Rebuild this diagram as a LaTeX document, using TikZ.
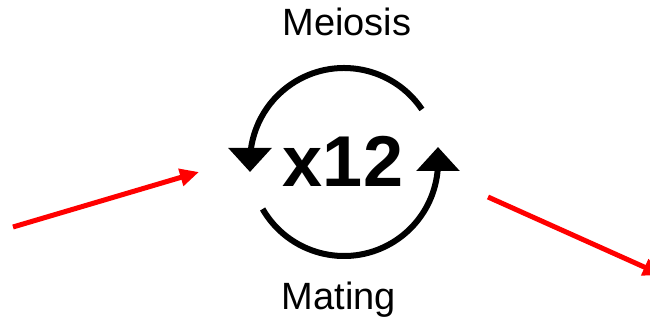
\documentclass[tikz,border=0pt]{standalone}
\usepackage{fontspec}
\setmainfont{Liberation Sans}
\usetikzlibrary{arrows.meta, calc}

\begin{document}
\begin{tikzpicture}[x=1pt, y=1pt,
    cycle/.style={line width=6pt, -{Triangle[width=42pt, length=24pt]}},
    fleche/.style={line width=5pt, red, -{Triangle[width=17pt, length=19pt]}},
    etiquette/.style={anchor=base, inner sep=0pt, font=\fontsize{38}{40}\selectfont}]
    % Cadre
    \useasboundingbox (0,0) rectangle (650,321);
    \clip (0,0) rectangle (650,321);

    % Centre du cycle
    \coordinate (C) at (344,159);

    % Textes
    \node[etiquette] (meiose) at (347,285) {Meiosis};
    \node[etiquette] (fecondation) at (339,12) {Mating};
    \node[anchor=base, inner sep=0pt, font=\fontsize{72}{74}\selectfont\bfseries] (fois) at (343,134) {x12};

    % Arcs du cycle
    \draw[cycle] ($(C)+(34:94)$) arc[start angle=34, end angle=180, radius=94] -- ++(0,-10);
    \draw[cycle] ($(C)+(210:94)$) arc[start angle=210, end angle=360, radius=94] -- ++(0,15);

    % Fleches rouges
    \coordinate (A1) at (13,94);
    \coordinate (B1) at (199,149);
    \coordinate (A2) at (488,124);
    \coordinate (B2) at (662,46);
    \draw[fleche] (A1) -- (B1);
    \draw[fleche] (A2) -- (B2);
\end{tikzpicture}
\end{document}
